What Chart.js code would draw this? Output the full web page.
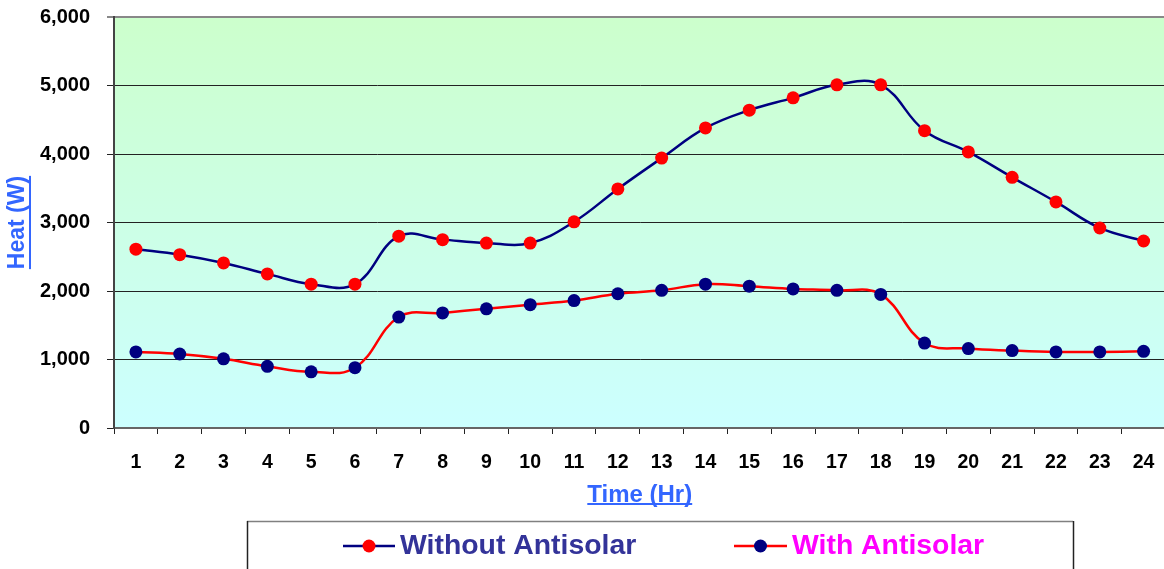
<!DOCTYPE html>
<html><head><meta charset="utf-8">
<script src="https://cdn.jsdelivr.net/npm/chart.js@4.4.1/dist/chart.umd.min.js"></script>
<style>
html,body{margin:0;padding:0;overflow:hidden;background:#fff;width:1164px;height:569px}
#wrap{position:relative;width:1172px;height:569px;overflow:hidden}
#c{position:absolute;left:0;top:-12px}
</style></head>
<body><div id="wrap"><canvas id="c" width="1172" height="581"></canvas></div>
<script>
const hours = ['1','2','3','4','5','6','7','8','9','10','11','12','13','14','15','16','17','18','19','20','21','22','23','24'];
const withoutAntisolar = [2610,2530,2410,2250,2100,2100,2800,2750,2700,2700,3010,3490,3940,4380,4640,4820,5010,5010,4340,4030,3660,3300,2920,2730];
const withAntisolar = [1110,1080,1010,900,820,880,1620,1680,1740,1800,1860,1960,2010,2100,2070,2030,2010,1950,1240,1160,1130,1110,1110,1120];
const yMin = 0, yMax = 6000, yStep = 1000;
const seriesNames = ['Without Antisolar','With Antisolar'];
const xTitle = 'Time (Hr)';
const yTitle = 'Heat (W)';

const FAM = '"Liberation Sans", Arial, sans-serif';
Chart.defaults.font.family = FAM;
Chart.defaults.color = '#000';
const SHIFT = 12; // canvas is placed 12px above the page top

const bgPlugin = {
  id: 'bg',
  beforeDraw(chart) {
    const {ctx, chartArea: a} = chart;
    const g = ctx.createLinearGradient(0, a.top, 0, a.bottom);
    g.addColorStop(0, '#CCFFCC');
    g.addColorStop(1, '#CCFFFF');
    ctx.save();
    ctx.fillStyle = g;
    ctx.fillRect(a.left, a.top, a.right - a.left, a.bottom - a.top);
    ctx.restore();
  }
};

const decoPlugin = {
  id: 'deco',
  afterDraw(chart) {
    const {ctx, chartArea: a} = chart;
    ctx.save();
    ctx.translate(0, SHIFT);
    ctx.fillStyle = '#3366FF';
    ctx.font = 'bold 24px ' + FAM;
    const wx = ctx.measureText(xTitle).width;
    const cx = (a.left + a.right) / 2;
    ctx.fillRect(cx - wx / 2, 503, wx, 2);
    ctx.font = 'bold 23px ' + FAM;
    const wy = ctx.measureText(yTitle).width;
    const cy = (a.top + a.bottom) / 2 - SHIFT;
    ctx.fillRect(29, cy - wy / 2, 2, wy);

    ctx.lineWidth = 1.5;
    ctx.strokeStyle = '#808080';
    ctx.beginPath(); ctx.moveTo(247, 521.5); ctx.lineTo(1073, 521.5); ctx.stroke();
    ctx.strokeStyle = '#222';
    ctx.beginPath(); ctx.moveTo(247.5, 521); ctx.lineTo(247.5, 580); ctx.stroke();
    ctx.beginPath(); ctx.moveTo(1073.5, 521); ctx.lineTo(1073.5, 580); ctx.stroke();

    const items = [
      {x0: 343, x1: 395, text: seriesNames[0], tx: 400, line: '#000080', dot: '#FF0000', color: '#333399'},
      {x0: 734, x1: 787, text: seriesNames[1], tx: 792, line: '#FF0000', dot: '#000080', color: '#FF00FF'}
    ];
    const ly = 546;
    items.forEach(it => {
      ctx.strokeStyle = it.line;
      ctx.lineWidth = 2.5;
      ctx.beginPath(); ctx.moveTo(it.x0, ly); ctx.lineTo(it.x1, ly); ctx.stroke();
      ctx.fillStyle = it.dot;
      ctx.beginPath(); ctx.arc((it.x0 + it.x1) / 2, ly, 6.5, 0, Math.PI * 2); ctx.fill();
      ctx.font = 'bold 28.4px ' + FAM;
      ctx.fillStyle = it.color;
      ctx.textBaseline = 'middle';
      ctx.textAlign = 'left';
      ctx.fillText(it.text, it.tx, ly);
    });
    ctx.restore();
  }
};

new Chart(document.getElementById('c'), {
  type: 'line',
  data: {
    labels: hours,
    datasets: [
      {
        label: seriesNames[0],
        data: withoutAntisolar,
        borderColor: '#000080',
        borderWidth: 2.5,
        pointRadius: 6.5,
        pointHoverRadius: 6.5,
        pointBackgroundColor: '#FF0000',
        pointBorderColor: '#FF0000',
        pointBorderWidth: 0,
        tension: 0.4,
        fill: false
      },
      {
        label: seriesNames[1],
        data: withAntisolar,
        borderColor: '#FF0000',
        borderWidth: 2.5,
        pointRadius: 6.5,
        pointHoverRadius: 6.5,
        pointBackgroundColor: '#000080',
        pointBorderColor: '#000080',
        pointBorderWidth: 0,
        tension: 0.4,
        fill: false
      }
    ]
  },
  options: {
    responsive: false,
    animation: false,
    devicePixelRatio: 1,
    layout: {padding: {top: 4, left: 0, right: 0, bottom: 0}},
    plugins: {legend: {display: false}, tooltip: {enabled: false}},
    scales: {
      x: {
        offset: true,
        afterFit(s) { s.height = 141; },
        grid: {offset: true, drawOnChartArea: false, drawTicks: true, tickLength: 6, color: '#222', lineWidth: 1},
        border: {display: true, color: '#666', width: 2},
        ticks: {font: {size: 19.5, weight: 'bold'}, color: '#000', padding: 17, maxRotation: 0, autoSkip: false},
        title: {display: true, text: xTitle, color: '#3366FF', font: {size: 24, weight: 'bold'}, padding: {top: 0, bottom: 59}}
      },
      y: {
        min: yMin, max: yMax,
        afterFit(s) { s.width = 114; },
        grid: {
          drawTicks: true, tickLength: 7,
          color: c => (c.tick && c.tick.value === yMax) ? '#888' : '#222',
          lineWidth: c => (c.tick && c.tick.value === yMax) ? 2 : 1
        },
        border: {display: true, color: '#444', width: 2},
        ticks: {stepSize: yStep, font: {size: 20, weight: 'bold'}, color: '#000', padding: 17,
          callback: v => Number(v).toLocaleString('en-US')},
        title: {display: true, text: yTitle, color: '#3366FF', font: {size: 23, weight: 'bold'}, padding: {top: 4, bottom: 0}}
      }
    }
  },
  plugins: [bgPlugin, decoPlugin]
});
</script>
</body></html>
